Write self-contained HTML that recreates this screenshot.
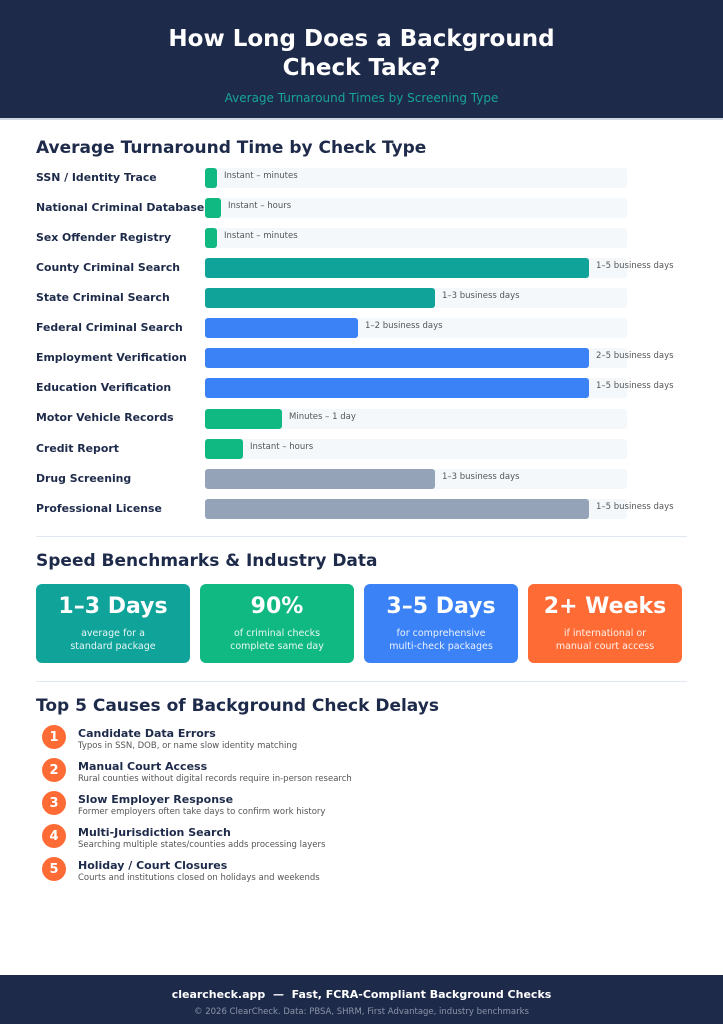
<!DOCTYPE html>
<html><head><meta charset="utf-8"><style>
*{margin:0;padding:0;box-sizing:border-box}
body{width:723px;height:1024px;position:relative;background:#fff;font-family:"DejaVu Sans","Liberation Sans",sans-serif;color:#1e2a4a;overflow:hidden}
.a{position:absolute;white-space:nowrap}
.hdr{position:absolute;left:0;top:0;width:723px;height:120px;background:#1e2a4a;border-bottom:2px solid #cfd6e2}
.h2{font-size:17px;font-weight:bold;left:36px}
.lbl{left:36px;font-size:10.9px;font-weight:bold;line-height:14px}
.trk{left:205px;width:422px;height:20px;background:#f4f8fb;border-radius:3px}
.bar{left:205px;height:20px;border-radius:3px}
.val{font-size:8.5px;color:#555;line-height:10px}
.card{width:154px;height:79px;border-radius:6px;color:#fff;text-align:center}
.card b{display:block;font-size:22px;margin-top:10px;line-height:26px}
.card span{display:block;font-size:9.5px;line-height:13px;margin-top:7px;opacity:.9}
.circ{width:24px;height:24px;border-radius:12px;background:#ff6b35;color:#fff;font-weight:bold;font-size:13px;display:flex;align-items:center;justify-content:center;left:42px}
.it{left:78px;font-size:11px;font-weight:bold;line-height:13px}
.ds{left:78px;font-size:8.5px;color:#555;line-height:10px}
.hr{left:36px;width:651px;height:1px;background:#e2e8f0}
</style></head><body>
<div class="hdr"></div>
<div class="a" style="left:0;width:723px;top:25px;text-align:center;color:#fff;font-size:23px;font-weight:bold;line-height:29px">How Long Does a Background<br>Check Take?</div>
<div class="a" style="left:0;width:723px;top:91px;text-align:center;color:#17a39a;font-size:12px">Average Turnaround Times by Screening Type</div>

<div class="a h2" style="top:138px">Average Turnaround Time by Check Type</div>

<div class="a lbl" style="top:171px">SSN / Identity Trace</div>
<div class="a trk" style="top:168px"></div><div class="a bar" style="top:168px;width:12px;background:#10b981"></div>
<div class="a val" style="left:224px;top:171px">Instant – minutes</div>

<div class="a lbl" style="top:201px">National Criminal Database</div>
<div class="a trk" style="top:198px"></div><div class="a bar" style="top:198px;width:16px;background:#10b981"></div>
<div class="a val" style="left:228px;top:201px">Instant – hours</div>

<div class="a lbl" style="top:231px">Sex Offender Registry</div>
<div class="a trk" style="top:228px"></div><div class="a bar" style="top:228px;width:12px;background:#10b981"></div>
<div class="a val" style="left:224px;top:231px">Instant – minutes</div>

<div class="a lbl" style="top:261px">County Criminal Search</div>
<div class="a trk" style="top:258px"></div><div class="a bar" style="top:258px;width:384px;background:#0fa39a"></div>
<div class="a val" style="left:596px;top:261px">1–5 business days</div>

<div class="a lbl" style="top:291px">State Criminal Search</div>
<div class="a trk" style="top:288px"></div><div class="a bar" style="top:288px;width:230px;background:#0fa39a"></div>
<div class="a val" style="left:442px;top:291px">1–3 business days</div>

<div class="a lbl" style="top:321px">Federal Criminal Search</div>
<div class="a trk" style="top:318px"></div><div class="a bar" style="top:318px;width:153px;background:#3b82f6"></div>
<div class="a val" style="left:365px;top:321px">1–2 business days</div>

<div class="a lbl" style="top:351px">Employment Verification</div>
<div class="a trk" style="top:348px"></div><div class="a bar" style="top:348px;width:384px;background:#3b82f6"></div>
<div class="a val" style="left:596px;top:351px">2–5 business days</div>

<div class="a lbl" style="top:381px">Education Verification</div>
<div class="a trk" style="top:378px"></div><div class="a bar" style="top:378px;width:384px;background:#3b82f6"></div>
<div class="a val" style="left:596px;top:381px">1–5 business days</div>

<div class="a lbl" style="top:411px">Motor Vehicle Records</div>
<div class="a trk" style="top:409px"></div><div class="a bar" style="top:409px;width:77px;background:#10b981"></div>
<div class="a val" style="left:289px;top:412px">Minutes – 1 day</div>

<div class="a lbl" style="top:442px">Credit Report</div>
<div class="a trk" style="top:439px"></div><div class="a bar" style="top:439px;width:38px;background:#10b981"></div>
<div class="a val" style="left:250px;top:442px">Instant – hours</div>

<div class="a lbl" style="top:472px">Drug Screening</div>
<div class="a trk" style="top:469px"></div><div class="a bar" style="top:469px;width:230px;background:#94a3b8"></div>
<div class="a val" style="left:442px;top:472px">1–3 business days</div>

<div class="a lbl" style="top:502px">Professional License</div>
<div class="a trk" style="top:499px"></div><div class="a bar" style="top:499px;width:384px;background:#94a3b8"></div>
<div class="a val" style="left:596px;top:502px">1–5 business days</div>

<div class="a hr" style="top:536px"></div>
<div class="a h2" style="top:551px">Speed Benchmarks &amp; Industry Data</div>

<div class="a card" style="left:36px;top:584px;background:#0fa39a"><b>1–3 Days</b><span>average for a<br>standard package</span></div>
<div class="a card" style="left:200px;top:584px;background:#10b981"><b>90%</b><span>of criminal checks<br>complete same day</span></div>
<div class="a card" style="left:364px;top:584px;background:#3b82f6"><b>3–5 Days</b><span>for comprehensive<br>multi-check packages</span></div>
<div class="a card" style="left:528px;top:584px;background:#ff6b35"><b>2+ Weeks</b><span>if international or<br>manual court access</span></div>

<div class="a hr" style="top:681px"></div>
<div class="a h2" style="top:696px">Top 5 Causes of Background Check Delays</div>

<div class="a circ" style="top:725px">1</div>
<div class="a it" style="top:727px">Candidate Data Errors</div>
<div class="a ds" style="top:741px">Typos in SSN, DOB, or name slow identity matching</div>
<div class="a circ" style="top:758px">2</div>
<div class="a it" style="top:760px">Manual Court Access</div>
<div class="a ds" style="top:774px">Rural counties without digital records require in-person research</div>
<div class="a circ" style="top:791px">3</div>
<div class="a it" style="top:793px">Slow Employer Response</div>
<div class="a ds" style="top:807px">Former employers often take days to confirm work history</div>
<div class="a circ" style="top:824px">4</div>
<div class="a it" style="top:826px">Multi-Jurisdiction Search</div>
<div class="a ds" style="top:840px">Searching multiple states/counties adds processing layers</div>
<div class="a circ" style="top:857px">5</div>
<div class="a it" style="top:859px">Holiday / Court Closures</div>
<div class="a ds" style="top:873px">Courts and institutions closed on holidays and weekends</div>

<div class="a" style="left:0;top:975px;width:723px;height:49px;background:#1e2a4a"></div>
<div class="a" style="left:0;width:723px;top:988px;text-align:center;color:#fff;font-size:11px;font-weight:bold">clearcheck.app &nbsp;—&nbsp; Fast, FCRA-Compliant Background Checks</div>
<div class="a" style="left:0;width:723px;top:1007px;text-align:center;color:#8a94a8;font-size:8.5px">© 2026 ClearCheck. Data: PBSA, SHRM, First Advantage, industry benchmarks</div>
</body></html>
